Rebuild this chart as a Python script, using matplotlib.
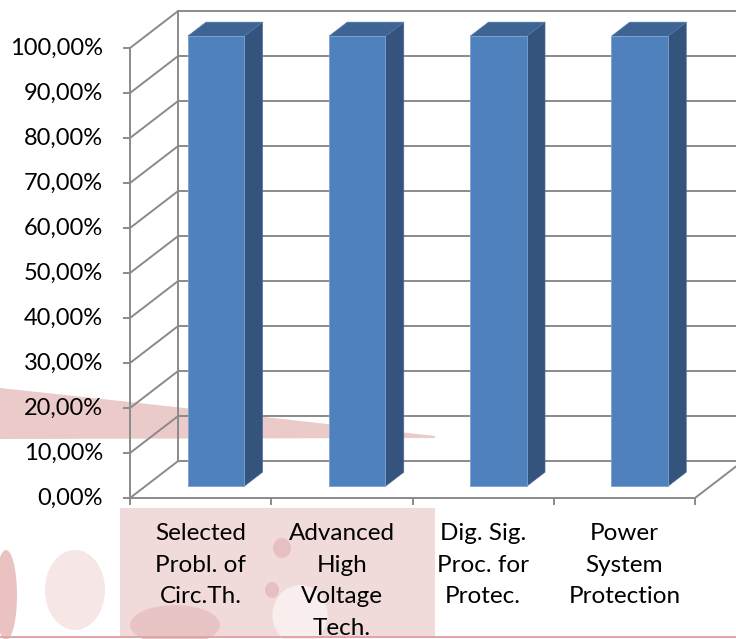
import matplotlib.pyplot as plt
import matplotlib as mpl
from matplotlib.patches import Polygon, Rectangle, Ellipse

mpl.rcParams["font.family"] = ["Lato", "DejaVu Sans"]

# ---- Data ----
categories = [
    "Selected\nProbl. of\nCirc.Th.",
    "Advanced\nHigh\nVoltage\nTech.",
    "Dig. Sig.\nProc. for\nProtec.",
    "Power\nSystem\nProtection",
]
values = [100.0, 100.0, 100.0, 100.0]
yticks = [0, 10, 20, 30, 40, 50, 60, 70, 80, 90, 100]
ytick_labels = [f"{v},00%" for v in yticks]

# ---- 3D look ----
DX, DY = 0.34, 8.2          # wall depth offset (category units, %)
F_FRONT, F_BACK = 0.32, 0.70  # bar depth position as fraction of wall depth
BAR_W = 0.40
GRID = "#8a8a8a"
FRONT = "#4f81bd"
SIDE = "#34547d"
TOP = "#3d6492"

W, H = 736, 639
fig = plt.figure(figsize=(W / 100, H / 100), dpi=100)
ax = fig.add_axes([0, 0, 1, 1])
px_x, px_y = 141.25, 4.5     # pixels per category / per percent
x0_px, y0_px = 130, H - 498
ax.set_xlim(-x0_px / px_x, (W - x0_px) / px_x)
ax.set_ylim(-y0_px / px_y, (H - y0_px) / px_y)
ax.axis("off")

# ---- watermark (faint background logo) ----
ft = fig.transFigure
def fp(x, y):
    return (x / W, 1 - y / H)

ax.add_patch(Polygon([fp(0, 388), fp(130, 402), fp(435, 436), fp(435, 438), fp(0, 439)],
                     closed=True, transform=ft, fc="#ebcaca", ec="none", zorder=0))
ax.add_patch(Rectangle(fp(120, 636), 315 / W, 128 / H, transform=ft,
                       fc="#f1dada", ec="none", zorder=0))
for (cx, cy, w, h, c) in [(282, 548, 18, 20, "#e6c0c0"), (272, 590, 14, 16, "#e6c0c0"),
                          (300, 615, 55, 60, "#f8eeee"), (175, 625, 90, 40, "#e9c4c4"),
                          (75, 590, 60, 80, "#f6e6e6"), (6, 595, 22, 90, "#eac2c2")]:
    ax.add_patch(Ellipse(fp(cx, cy), w / W, h / H, transform=ft, fc=c, ec="none", zorder=0))
ax.add_patch(Rectangle(fp(0, 638), 1, 2 / H, transform=ft, fc="#e3a6a6", ec="none", zorder=0))

n = len(categories)

# ---- walls / grid ----
for v, lab in zip(yticks, ytick_labels):
    ax.plot([0, DX], [v, v + DY], color=GRID, lw=1.4, zorder=1, solid_capstyle="butt")
    ax.plot([DX, n + DX + 0.5], [v + DY, v + DY], color=GRID, lw=1.4, zorder=1)
    ax.plot([-0.045, 0], [v, v], color=GRID, lw=1.4, zorder=1)
    ax.text(-0.19, v, lab, ha="right", va="center",
            fontsize=17, color="black", zorder=5)
ax.plot([0, 0], [0, yticks[-1]], color=GRID, lw=1.4, zorder=1)
ax.plot([DX, DX], [DY, yticks[-1] + DY], color=GRID, lw=1.4, zorder=1)
ax.plot([0, n], [0, 0], color=GRID, lw=1.4, zorder=1)
ax.plot([n, n + DX], [0, DY], color=GRID, lw=1.4, zorder=1)
for i in range(n + 1):
    ax.plot([i, i], [0, -1.3], color=GRID, lw=1.4, zorder=1)

# ---- bars ----
for i, v in enumerate(values):
    fx, fy = F_FRONT * DX, F_FRONT * DY
    bx, by = F_BACK * DX, F_BACK * DY
    left = i + 0.5 - BAR_W / 2
    right = left + BAR_W
    front = [(left + fx, fy), (right + fx, fy), (right + fx, v + fy), (left + fx, v + fy)]
    side = [(right + fx, fy), (right + bx, by), (right + bx, v + by), (right + fx, v + fy)]
    top = [(left + fx, v + fy), (right + fx, v + fy), (right + bx, v + by), (left + bx, v + by)]
    ax.add_patch(Polygon(side, closed=True, fc=SIDE, ec="#4a6a94", lw=0.5, zorder=3))
    ax.add_patch(Polygon(top, closed=True, fc=TOP, ec="#5577a3", lw=0.5, zorder=3))
    ax.add_patch(Polygon(front, closed=True, fc=FRONT, ec="#7fa2cf", lw=0.6, zorder=4))

# ---- category labels ----
for i, lab in enumerate(categories):
    ax.text(i + 0.5, -5.6, lab, ha="center", va="top", fontsize=17.5,
            color="black", linespacing=1.62, zorder=5)

fig.savefig("out.png", dpi=100, facecolor="white")
